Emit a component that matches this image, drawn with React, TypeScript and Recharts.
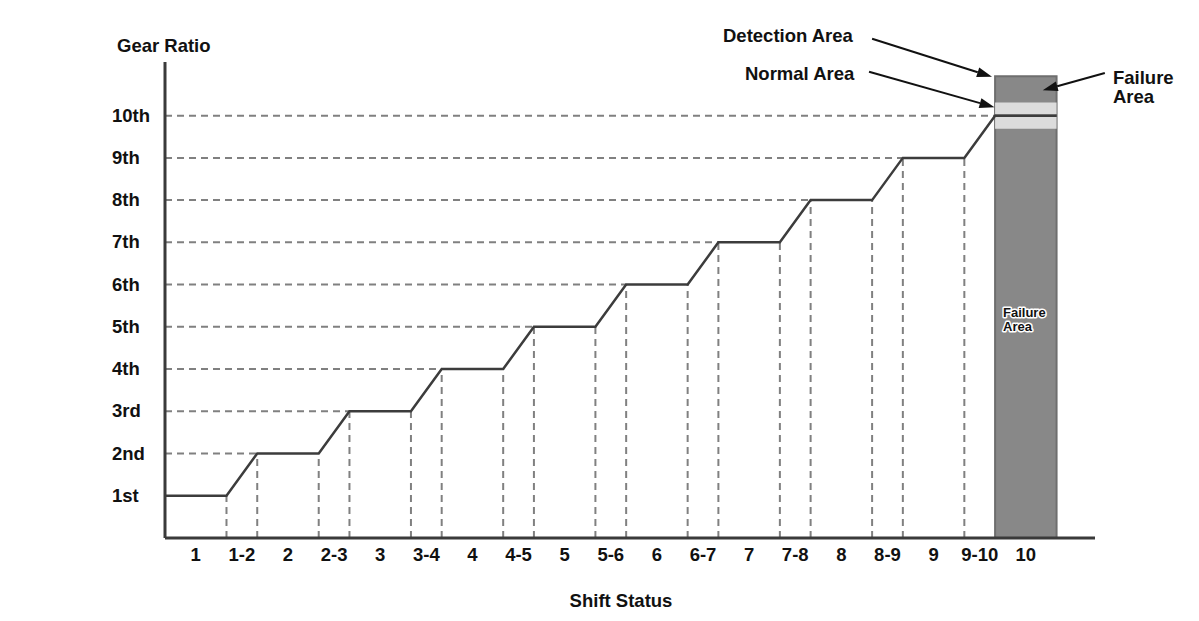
import React from "react";
import {
  ComposedChart,
  Line,
  XAxis,
  YAxis,
  ReferenceLine,
  ReferenceArea,
} from "recharts";

// gear ratio labels on the y axis (value 1..10)
const gearLabels = ["1st", "2nd", "3rd", "4th", "5th", "6th", "7th", "8th", "9th", "10th"];
const gearValues = [1, 2, 3, 4, 5, 6, 7, 8, 9, 10];

// shift status labels along the x axis and where they sit
const shiftLabels = ["1", "1-2", "2", "2-3", "3", "3-4", "4", "4-5", "5", "5-6", "6", "6-7", "7", "7-8", "8", "8-9", "9", "9-10", "10"];
const shiftTicks = [1, 2.5, 4, 5.5, 7, 8.5, 10, 11.5, 13, 14.5, 16, 17.5, 19, 20.5, 22, 23.5, 25, 26.5, 28];

// where each gear's flat section starts and ends
const gearStart = [0, 3, 6, 9, 12, 15, 18, 21, 24, 27];
const gearEnd = [2, 5, 8, 11, 14, 17, 20, 23, 26, 29];

// failure column (10th gear) and its normal band
const failureTop = 10.93;
const normalBands = [
  [10.03, 10.31],
  [9.69, 9.97],
];

const stepData = gearValues.flatMap((g, i) => [
  { x: gearStart[i], y: g },
  { x: gearEnd[i], y: g },
]);

const axisColor = "#3a3a3a";
const guideColor = "#808080";
const font = "'Liberation Sans', Arial, sans-serif";

const Arrow = (props: any) => {
  const { x1, y1, x2, y2 } = props;
  const a = Math.atan2(y2 - y1, x2 - x1);
  const len = 15;
  const w = 5;
  const bx = x2 - len * Math.cos(a);
  const by = y2 - len * Math.sin(a);
  const px = -Math.sin(a) * w;
  const py = Math.cos(a) * w;
  return (
    <g>
      <line x1={x1} y1={y1} x2={bx} y2={by} stroke="#111" strokeWidth={2} />
      <polygon points={`${x2},${y2} ${bx + px},${by + py} ${bx - px},${by - py}`} fill="#111" />
    </g>
  );
};

const YTick = (props: any) => {
  const { x, y, payload } = props;
  return (
    <text x={x - 45} y={y} dy={6} textAnchor="start" fontFamily={font} fontWeight="bold" fontSize={18.5} fill="#111">
      {gearLabels[gearValues.indexOf(payload.value)]}
    </text>
  );
};

const XTick = (props: any) => {
  const { x, y, payload } = props;
  return (
    <text x={x} y={y} dy={15} textAnchor="middle" fontFamily={font} fontWeight="bold" fontSize={18.5} fill="#111">
      {shiftLabels[shiftTicks.indexOf(payload.value)]}
    </text>
  );
};

export default function App() {
  return (
    <div style={{ position: "absolute", left: 0, top: 0, width: 1199, height: 621, background: "#fff" }}>
      <ComposedChart
        width={1199}
        height={621}
        data={stepData}
        margin={{ top: 62, right: 104, bottom: 43, left: 105 }}
      >
        <XAxis
          type="number"
          dataKey="x"
          domain={[0, 30.25]}
          allowDataOverflow
          ticks={shiftTicks}
          tick={<XTick />}
          tickLine={false}
          height={40}
          axisLine={{ stroke: axisColor, strokeWidth: 3 }}
          interval={0}
        />
        <YAxis
          type="number"
          domain={[0, 11.27]}
          allowDataOverflow
          ticks={gearValues}
          tick={<YTick />}
          tickLine={false}
          width={60}
          axisLine={{ stroke: axisColor, strokeWidth: 3 }}
          interval={0}
        />

        {gearValues.slice(1).map((g, i) => (
          <ReferenceLine
            key={`h${g}`}
            segment={[{ x: 0, y: g }, { x: gearStart[i + 1], y: g }]}
            stroke={guideColor}
            strokeWidth={2}
            strokeDasharray="7 5"
          />
        ))}
        {gearValues.slice(0, 9).map((g, i) => (
          <ReferenceLine
            key={`ve${g}`}
            segment={[{ x: gearEnd[i], y: 0 }, { x: gearEnd[i], y: g }]}
            stroke={guideColor}
            strokeWidth={2}
            strokeDasharray="7 5"
          />
        ))}
        {gearValues.slice(1, 9).map((g, i) => (
          <ReferenceLine
            key={`vs${g}`}
            segment={[{ x: gearStart[i + 1], y: 0 }, { x: gearStart[i + 1], y: g }]}
            stroke={guideColor}
            strokeWidth={2}
            strokeDasharray="7 5"
          />
        ))}

        <ReferenceArea
          x1={gearStart[9]}
          x2={gearEnd[9]}
          y1={0}
          y2={failureTop}
          fill="#888888"
          fillOpacity={1}
          stroke="#6e6e6e"
          strokeWidth={2}
        />
        {normalBands.map(([a, b]) => (
          <ReferenceArea
            key={a}
            x1={gearStart[9]}
            x2={gearEnd[9]}
            y1={a}
            y2={b}
            fill="#dcdcdc"
            fillOpacity={1}
            stroke="none"
          />
        ))}

        <Line
          type="linear"
          dataKey="y"
          stroke="#3c3c3c"
          strokeWidth={2.5}
          dot={false}
          isAnimationActive={false}
        />

        <ReferenceLine
          segment={[{ x: 23.0, y: 11.82 }, { x: 26.9, y: 10.92 }]}
          ifOverflow="visible"
          shape={<Arrow />}
        />
        <ReferenceLine
          segment={[{ x: 22.9, y: 11.04 }, { x: 26.98, y: 10.2 }]}
          ifOverflow="visible"
          shape={<Arrow />}
        />
        <ReferenceLine
          segment={[{ x: 30.57, y: 11.01 }, { x: 28.55, y: 10.6 }]}
          ifOverflow="visible"
          shape={<Arrow />}
        />
      </ComposedChart>

      <svg
        width={1199}
        height={621}
        style={{ position: "absolute", left: 0, top: 0, pointerEvents: "none" }}
        fontFamily={font}
        fontWeight="bold"
        fill="#111"
      >
        <text x={117} y={52} fontSize={18.5}>Gear Ratio</text>
        <text x={621} y={607} fontSize={18.5} textAnchor="middle">Shift Status</text>
        <text x={723} y={42} fontSize={18.5}>Detection Area</text>
        <text x={745} y={80} fontSize={18.5}>Normal Area</text>
        <text x={1113} y={84} fontSize={18.5}>Failure</text>
        <text x={1113} y={103} fontSize={18.5}>Area</text>
        <g fontSize={13} stroke="#fff" strokeWidth={3} paintOrder="stroke" strokeLinejoin="round">
          <text x={1003} y={317}>Failure</text>
          <text x={1003} y={331}>Area</text>
        </g>
      </svg>
    </div>
  );
}
